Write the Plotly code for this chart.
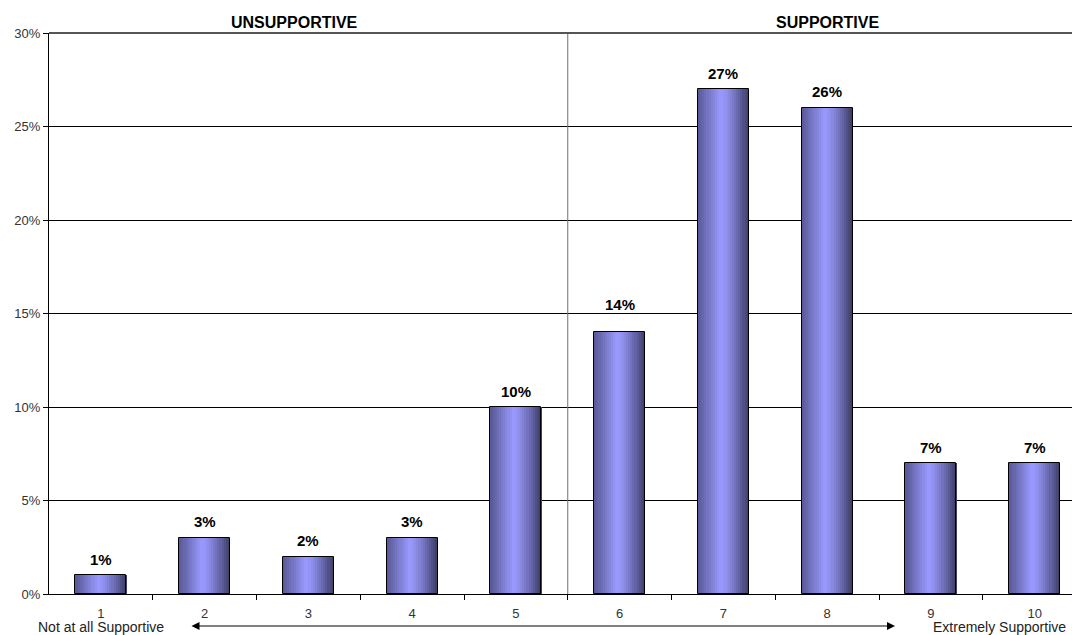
import plotly.graph_objects as go

# Survey responses on a 1-10 supportiveness scale (percent of respondents)
categories = [1, 2, 3, 4, 5, 6, 7, 8, 9, 10]
tick_labels = ["1", "2", "3", "4", "5", "6", "7", "8", "9", "10"]
percent = [1, 3, 2, 3, 10, 14, 27, 26, 7, 7]
y_ticks = [0, 5, 10, 15, 20, 25, 30]

FONT = "Arial, Liberation Sans, sans-serif"
BAR_W = 0.49
N_STRIPS = 24


def lerp(c1, c2, t):
    return tuple(round(a + (b - a) * t) for a, b in zip(c1, c2))


def shade(t):
    # horizontal cylinder-style gradient: dark edges, light band left of centre
    left, peak, right = (88, 88, 150), (154, 154, 255), (58, 58, 98)
    if t < 0.45:
        c = lerp(left, peak, t / 0.45)
    else:
        c = lerp(peak, right, ((t - 0.45) / 0.55) ** 1.3)
    return "rgb(%d,%d,%d)" % c


fig = go.Figure()

strip_w = BAR_W / N_STRIPS
for i in range(N_STRIPS):
    fig.add_trace(go.Bar(
        x=categories, y=percent,
        width=strip_w * 1.15, offset=-BAR_W / 2 + i * strip_w,
        marker=dict(color=shade((i + 0.5) / N_STRIPS), line=dict(width=0)),
        hoverinfo="skip", showlegend=False,
    ))

# bar outlines
fig.add_trace(go.Bar(
    x=categories, y=percent, width=BAR_W,
    marker=dict(color="rgba(0,0,0,0)", line=dict(color="black", width=1)),
    showlegend=False,
))

# category boundary ticks
fig.add_trace(go.Scatter(x=[1.5], y=[None], xaxis="x2", showlegend=False))


def label_lift(v):
    # keep a label clear of the gridline just above its bar
    return 28 if (v % 5) >= 3.5 else 16


value_labels = [
    dict(text=f"<b>{v}%</b>", x=c, xref="x", y=v, yref="y", yanchor="middle",
         yshift=label_lift(v) if v > 10 else 16, showarrow=False,
         font=dict(size=15, color="black"))
    for c, v in zip(categories, percent)
]

fig.update_layout(
    template="none",
    width=1072, height=635,
    margin=dict(l=49, r=0, t=33, b=41),
    barmode="overlay", bargap=0,
    plot_bgcolor="white", paper_bgcolor="white",
    font=dict(family=FONT, size=12, color="#333"),
    xaxis=dict(
        range=[0.5, 10.36], tickmode="array", tickvals=categories,
        ticktext=tick_labels, ticks="", showgrid=False, zeroline=False,
        showline=True, linecolor="black", linewidth=1,
        ticklabelstandoff=7,
        tickfont=dict(family=FONT, size=13, color="#333"),
    ),
    xaxis2=dict(
        overlaying="x", matches="x", anchor="y", side="bottom",
        range=[0.5, 10.36], tickmode="array",
        tickvals=[c + 0.5 for c in categories[:-1]],
        ticks="outside", ticklen=5, tickcolor="black",
        showticklabels=False, showgrid=False, zeroline=False,
    ),
    yaxis=dict(
        range=[0, 30], tickmode="array", tickvals=y_ticks,
        ticktext=[f"{v}%" for v in y_ticks],
        ticks="outside", ticklen=5, tickcolor="black",
        showgrid=True, gridcolor="black", gridwidth=1, zeroline=False,
        showline=True, linecolor="black", linewidth=1,
        tickfont=dict(family=FONT, size=13, color="#333"),
    ),
    shapes=[
        dict(type="line", xref="x", yref="paper", x0=5.5, x1=5.5, y0=0, y1=1,
             line=dict(color="#707070", width=1)),
        dict(type="line", xref="paper", yref="paper", x0=0, x1=1, y0=1, y1=1,
             line=dict(color="#555", width=2)),
    ],
    annotations=value_labels + [
        dict(text="<b>UNSUPPORTIVE</b>", x=2.87, xref="x", y=1, yref="paper",
             xanchor="center", yanchor="middle", yshift=11, showarrow=False,
             font=dict(family=FONT, size=16, color="black")),
        dict(text="<b>SUPPORTIVE</b>", x=8.0, xref="x", y=1, yref="paper",
             xanchor="center", yanchor="middle", yshift=11, showarrow=False,
             font=dict(family=FONT, size=16, color="black")),
        dict(text="Not at all Supportive", x=(101 - 49) / 1023, xref="paper",
             xanchor="center", y=0, yref="paper", yanchor="middle",
             yshift=-33, showarrow=False,
             font=dict(family=FONT, size=14, color="#222")),
        dict(text="Extremely Supportive", x=(999 - 49) / 1023, xref="paper",
             xanchor="center", y=0, yref="paper", yanchor="middle",
             yshift=-33, showarrow=False,
             font=dict(family=FONT, size=14, color="#222")),
        dict(text="", x=(895 - 49) / 1023, xref="paper", y=-32 / 561,
             yref="paper", ax=-(895 - 190), ay=0, axref="pixel", ayref="pixel",
             showarrow=True, arrowhead=2, startarrowhead=2,
             arrowside="end+start", arrowsize=1.6, arrowwidth=1,
             arrowcolor="black"),
    ],
)

fig.write_html("out.html")
